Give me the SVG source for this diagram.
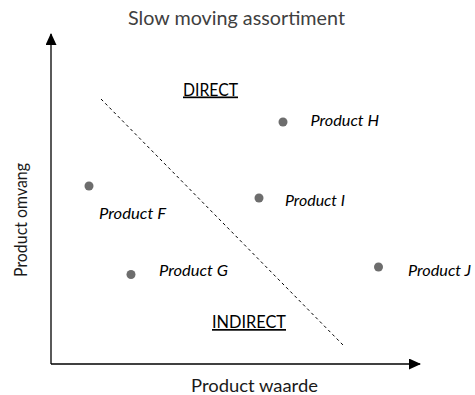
<svg xmlns="http://www.w3.org/2000/svg" width="475" height="395" viewBox="0 0 475 395">
<style>
text{font-family:Lato,"Liberation Sans",sans-serif;fill:#000}
.title{font-size:20px;fill:#404040}
.axis{font-size:16.5px;fill:#1a1a1a}
.region{font-size:17px;text-decoration:underline}
.lbl{font-size:15.5px;font-style:italic}
.dot{fill:#6d6d6d}
.ax{stroke:#000;stroke-width:1.3;fill:none}
</style>
<defs>
<marker id="arr" viewBox="0 0 12 11" refX="11" refY="5.5" markerWidth="12" markerHeight="11" markerUnits="userSpaceOnUse" orient="auto">
<path d="M0,0 L12,5.5 L0,11 Z" fill="#000"/>
</marker>
</defs>
<rect width="475" height="395" fill="#fff"/>
<text class="title" x="236.5" y="24.5" text-anchor="middle" textLength="217" lengthAdjust="spacingAndGlyphs">Slow moving assortiment</text>
<g id="connectors">
<line class="ax" x1="51" y1="364" x2="51" y2="34" marker-end="url(#arr)"/>
<line class="ax" x1="51" y1="364" x2="420" y2="364" marker-end="url(#arr)"/>
<line x1="101" y1="99" x2="343" y2="345" stroke="#000" stroke-width="1" stroke-dasharray="3,3"/>
</g>
<text class="axis" transform="translate(27,220) rotate(-90)" text-anchor="middle" textLength="114" lengthAdjust="spacingAndGlyphs">Product omvang</text>
<text class="axis" x="254.5" y="392" text-anchor="middle" textLength="127" lengthAdjust="spacingAndGlyphs">Product waarde</text>
<g id="direct"><text class="region" x="183" y="95.5" textLength="55" lengthAdjust="spacingAndGlyphs">DIRECT</text></g>
<g id="indirect"><text class="region" x="212" y="328" textLength="74" lengthAdjust="spacingAndGlyphs">INDIRECT</text></g>
<g id="productH"><circle class="dot" cx="283" cy="122" r="4.5"/><text class="lbl" x="310.5" y="126" textLength="68.5" lengthAdjust="spacingAndGlyphs">Product H</text></g>
<g id="productI"><circle class="dot" cx="259" cy="198" r="4.5"/><text class="lbl" x="285" y="206" textLength="60" lengthAdjust="spacingAndGlyphs">Product I</text></g>
<g id="productF"><circle class="dot" cx="89" cy="186" r="4.5"/><text class="lbl" x="99" y="219" textLength="67" lengthAdjust="spacingAndGlyphs">Product F</text></g>
<g id="productG"><circle class="dot" cx="131" cy="274.5" r="4.5"/><text class="lbl" x="159" y="276" textLength="69" lengthAdjust="spacingAndGlyphs">Product G</text></g>
<g id="productJ"><circle class="dot" cx="378.5" cy="267" r="4.5"/><text class="lbl" x="408" y="276" textLength="63" lengthAdjust="spacingAndGlyphs">Product J</text></g>
</svg>
